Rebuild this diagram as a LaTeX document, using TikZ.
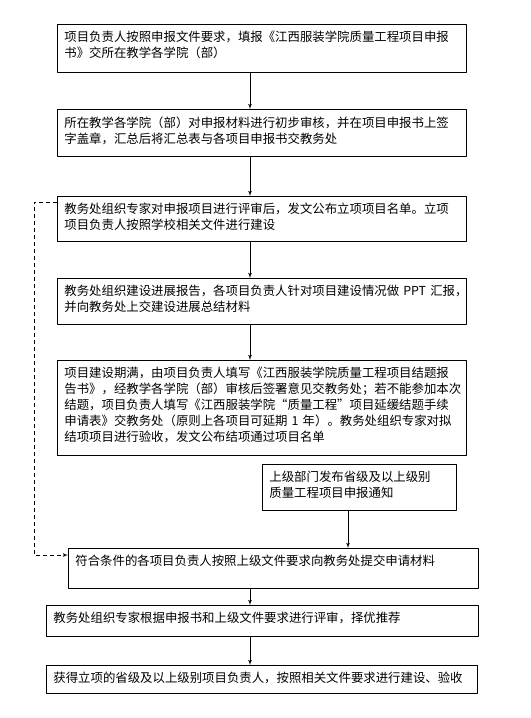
\documentclass[tikz,border=0pt]{standalone}
\usepackage{fontspec}
\setmainfont{Noto Sans CJK SC}
\usetikzlibrary{arrows}

\newcommand{\steptext}[2]{\parbox[t][#1][t]{\linewidth}{#2}}

\begin{document}
\begin{tikzpicture}[>=latex',line join=bevel,
  stepbox/.style={draw, anchor=north west, align=left, inner xsep=7bp, inner ysep=7bp,
    text width=395bp, font=\fontsize{12.4bp}{16bp}\selectfont},
  loopline/.style={->, dash pattern=on 4bp off 3bp}]

\pgfsetlinewidth{0.8bp}
\pgfsetcolor{black}
\useasboundingbox (0bp,0bp) rectangle (531bp,-718bp);

\coordinate (spine) at (250bp,0bp);
\coordinate (branch) at (348bp,0bp);
\coordinate (loop) at (34bp,0bp);

% Node: apply
\node[stepbox] (apply) at (57bp,-24bp) {\steptext{34bp}{项目负责人按照申报文件要求，填报《江西服装学院质量工程项目申报\\书》交所在教学各学院（部）}};

% Node: check
\node[stepbox] (check) at (57bp,-109bp) {\steptext{33bp}{所在教学各学院（部）对申报材料进行初步审核，并在项目申报书上签\\字盖章，汇总后将汇总表与各项目申报书交教务处}};

% Node: review
\node[stepbox] (review) at (57bp,-196bp) {\steptext{31bp}{教务处组织专家对申报项目进行评审后，发文公布立项项目名单。立项\\项目负责人按照学校相关文件进行建设}};

% Node: report
\node[stepbox] (report) at (57bp,-278bp) {\steptext{32bp}{教务处组织建设进展报告，各项目负责人针对项目建设情况做~PPT~汇报，\\并向教务处上交建设进展总结材料}};

% Node: close
\node[stepbox] (close) at (57bp,-360bp) {\steptext{81bp}{项目建设期满，由项目负责人填写《江西服装学院质量工程项目结题报\\告书》，经教学各学院（部）审核后签署意见交教务处；若不能参加本次\\结题，项目负责人填写《江西服装学院“质量工程”项目延缓结题手续\\申请表》交教务处（原则上各项目可延期~1~年）。教务处组织专家对拟\\结项项目进行验收，发文公布结项通过项目名单}};

% Node: notice
\node[stepbox, text width=180bp] (notice) at (262bp,-464bp) {\steptext{32bp}{上级部门发布省级及以上级别\\质量工程项目申报通知}};

% Node: submit
\node[stepbox, text width=396bp] (submit) at (68bp,-548bp) {\steptext{26bp}{符合条件的各项目负责人按照上级文件要求向教务处提交申请材料}};

% Node: recommend
\node[stepbox, text width=418bp] (recommend) at (46bp,-605bp) {\steptext{17bp}{教务处组织专家根据申报书和上级文件要求进行评审，择优推荐}};

% Node: build
\node[stepbox, text width=417bp] (build) at (46bp,-665bp) {\steptext{14bp}{获得立项的省级及以上级别项目负责人，按照相关文件要求进行建设、验收}};

% Edge: apply -> check
\draw [->] (apply.south -| spine) -- (check.north -| spine);

% Edge: check -> review
\draw [->] (check.south -| spine) -- (review.north -| spine);

% Edge: review -> report
\draw [->] (review.south -| spine) -- (report.north -| spine);

% Edge: report -> close
\draw [->] (report.south -| spine) -- (close.north -| spine);

% Edge: notice -> submit
\draw [->] (notice.south -| branch) -- (submit.north -| branch);

% Edge: submit -> recommend
\draw [->] (submit.south -| spine) -- (recommend.north -| spine);

% Edge: recommend -> build
\draw [->] (recommend.south -| spine) -- (build.north -| spine);

% Edge: review -> submit (dashed)
\draw [loopline] ([yshift=-6bp]review.north west) -- ([yshift=-6bp]review.north west -| loop)
  -- ([yshift=-7bp]submit.north west -| loop) -- ([yshift=-7bp]submit.north west);

\end{tikzpicture}
\end{document}
